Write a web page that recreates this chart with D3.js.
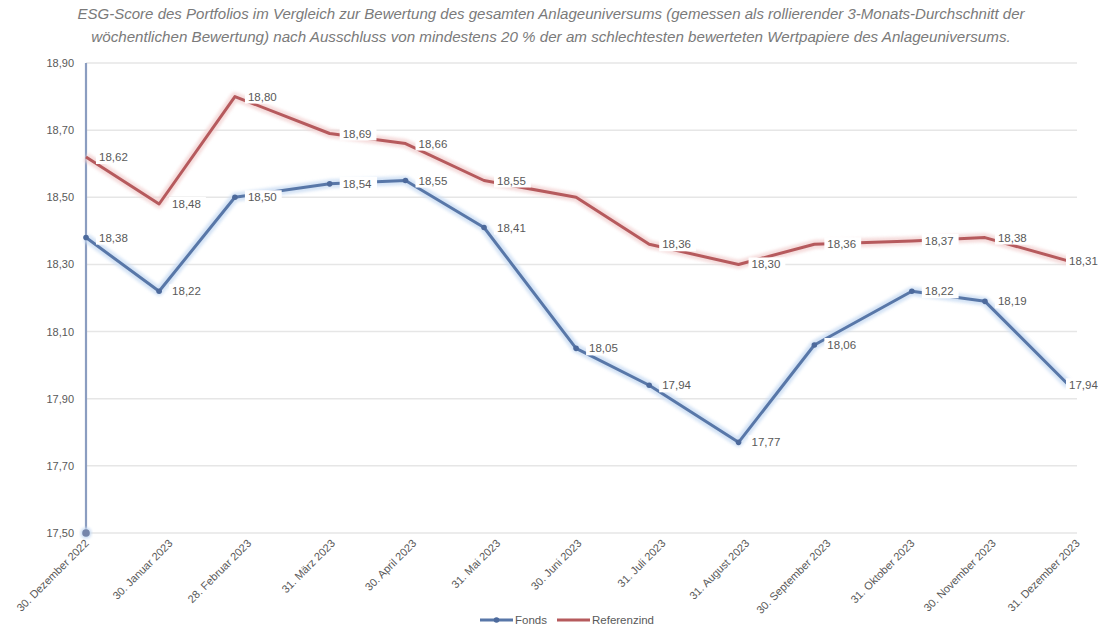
<!DOCTYPE html>
<html>
<head>
<meta charset="utf-8">
<script src="https://cdn.jsdelivr.net/npm/d3@7"></script>
<style>
  html, body { margin: 0; padding: 0; background: #ffffff; }
  svg { display: block; font-family: "Liberation Sans", "DejaVu Sans", sans-serif; }
</style>
</head>
<body>
<svg id="chart" width="1113" height="629"></svg>
<script>
// ---------- data ----------
const titleLines = [
  "ESG-Score des Portfolios im Vergleich zur Bewertung des gesamten Anlageuniversums (gemessen als rollierender 3-Monats-Durchschnitt der",
  "wöchentlichen Bewertung) nach Ausschluss von mindestens 20 % der am schlechtesten bewerteten Wertpapiere des Anlageuniversums."
];
const tickDates = ["2022-12-30","2023-01-30","2023-02-28","2023-03-31","2023-04-30","2023-05-31","2023-06-30","2023-07-31","2023-08-31","2023-09-30","2023-10-31","2023-11-30","2023-12-31"];
const tickLabels = ["30. Dezember 2022","30. Januar 2023","28. Februar 2023","31. März 2023","30. April 2023","31. Mai 2023","30. Juni 2023","31. Juli 2023","31. August 2023","30. September 2023","31. Oktober 2023","30. November 2023","31. Dezember 2023"];
const pointDates = ["2022-12-30","2023-01-26","2023-02-23","2023-03-30","2023-04-27","2023-05-26","2023-06-29","2023-07-26","2023-08-28","2023-09-25","2023-10-31","2023-11-27","2023-12-28"];
const fondsValues = [18.38,18.22,18.50,18.54,18.55,18.41,18.05,17.94,17.77,18.06,18.22,18.19,17.94];
const refValues   = [18.62,18.48,18.80,18.69,18.66,18.55,18.50,18.36,18.30,18.36,18.37,18.38,18.31];
const refLabelShown = [true,true,true,true,true,true,false,true,true,true,true,true,true];
const fondsStartSegment = [18.90, 17.50];
const yTicks = [17.50,17.70,17.90,18.10,18.30,18.50,18.70,18.90];
const seriesNames = ["Fonds","Referenzind"];

// ---------- setup ----------
const W = 1113, H = 629;
const svg = d3.select("#chart");
const parse = d3.timeParse("%Y-%m-%d");
const fmt = v => d3.format(".2f")(v).replace(".", ",");

const x = d3.scaleTime()
  .domain([parse(tickDates[0]), parse(tickDates[tickDates.length - 1])])
  .range([86, 1077]);
const y = d3.scaleLinear().domain([17.5, 18.9]).range([533, 63]);

const blue = "#5877a8", blueGlow = "#c9dcf3";
const red = "#b65a5d", redGlow = "#f3d3d3";
const textGray = "#595959";

const defs = svg.append("defs");
const glow = defs.append("filter").attr("id", "glow")
  .attr("x", "-10%").attr("y", "-10%").attr("width", "120%").attr("height", "120%");
glow.append("feGaussianBlur").attr("stdDeviation", 1.6);

// ---------- title ----------
svg.append("g").selectAll("text").data(titleLines).join("text")
  .attr("x", 551).attr("y", (d, i) => 19 + i * 23)
  .attr("text-anchor", "middle")
  .attr("font-style", "italic")
  .attr("font-size", 13)
  .attr("fill", "#7a7a7a")
  .text(d => d)
  .each(function(d, i) {
    const target = i === 0 ? 948 : 920;
    const len = this.getComputedTextLength();
    if (len > 0) d3.select(this).attr("font-size", 13 * target / len);
  });

// ---------- gridlines ----------
svg.append("g").selectAll("line").data(yTicks).join("line")
  .attr("x1", x.range()[0]).attr("x2", x.range()[1])
  .attr("y1", d => y(d)).attr("y2", d => y(d))
  .attr("stroke", "#e6e6e6").attr("stroke-width", 1.5);

// ---------- y axis ----------
const yAxis = d3.axisLeft(y).tickValues(yTicks).tickFormat(fmt).tickSize(0).tickPadding(0);
const gy = svg.append("g").attr("transform", "translate(74,0)").call(yAxis);
gy.select(".domain").remove();
gy.selectAll("text").attr("font-size", 11).attr("fill", textGray)
  .attr("font-family", "Liberation Sans, sans-serif");

// ---------- x axis ----------
const xAxis = d3.axisBottom(x)
  .tickValues(tickDates.map(parse))
  .tickFormat((d, i) => tickLabels[i])
  .tickSize(0);
const gx = svg.append("g").attr("transform", "translate(0,533)").call(xAxis);
gx.select(".domain").remove();
gx.selectAll("text")
  .attr("font-size", 11).attr("fill", textGray)
  .attr("text-anchor", "end")
  .attr("font-family", "Liberation Sans, sans-serif")
  .attr("dy", null).attr("y", 0)
  .attr("transform", "translate(3,11) rotate(-45)");

// ---------- lines ----------
const fondsData = pointDates.map((d, i) => ({ date: parse(d), value: fondsValues[i] }));
const refData = pointDates.map((d, i) => ({ date: parse(d), value: refValues[i], show: refLabelShown[i] }));
const line = d3.line().x(d => x(d.date)).y(d => y(d.value));

// vertical Fonds segment at first date
const segData = fondsStartSegment.map(v => ({ date: parse(pointDates[0]), value: v }));
svg.append("path").datum(segData).attr("d", line)
  .attr("stroke", blueGlow).attr("stroke-width", 6).attr("fill", "none").attr("filter", "url(#glow)");
svg.append("path").datum(segData).attr("d", line)
  .attr("stroke", "#8b9dc0").attr("stroke-width", 2.2).attr("fill", "none");
svg.append("circle")
  .attr("cx", x(segData[1].date)).attr("cy", y(segData[1].value)).attr("r", 5.5)
  .attr("fill", blueGlow).attr("filter", "url(#glow)");
svg.append("circle")
  .attr("cx", x(segData[1].date)).attr("cy", y(segData[1].value)).attr("r", 3.8)
  .attr("fill", "#7585aa");

// glows
svg.append("path").datum(refData).attr("d", line)
  .attr("stroke", redGlow).attr("stroke-width", 9).attr("fill", "none")
  .attr("stroke-linejoin", "round").attr("filter", "url(#glow)").attr("opacity", 0.8);
svg.append("path").datum(fondsData).attr("d", line)
  .attr("stroke", blueGlow).attr("stroke-width", 9).attr("fill", "none")
  .attr("stroke-linejoin", "round").attr("filter", "url(#glow)").attr("opacity", 0.8);

svg.append("path").datum(refData).attr("d", line)
  .attr("stroke", red).attr("stroke-width", 3).attr("fill", "none").attr("stroke-linejoin", "round");
svg.append("path").datum(fondsData).attr("d", line)
  .attr("stroke", blue).attr("stroke-width", 3).attr("fill", "none").attr("stroke-linejoin", "round");

svg.append("g").selectAll("circle").data(fondsData).join("circle")
  .attr("cx", d => x(d.date)).attr("cy", d => y(d.value)).attr("r", 2.8)
  .attr("fill", "#4d6a9c");

// ---------- data labels ----------
function addLabels(data) {
  const g = svg.append("g");
  data.filter(d => d.show !== false).forEach(d => {
    const vx = x(d.date), vy = y(d.value);
    const tx = Math.min(vx + 13, W - 44);
    const lg = g.append("g");
    const rect = lg.append("rect").attr("fill", "#ffffff");
    const t = lg.append("text")
      .attr("x", tx).attr("y", vy + 4)
      .attr("font-size", 11.5).attr("fill", textGray)
      .text(fmt(d.value));
    const bb = t.node().getBBox();
    rect.attr("x", bb.x - 3).attr("y", bb.y - 1)
      .attr("width", bb.width + 8).attr("height", bb.height + 2);
  });
}
addLabels(refData);
addLabels(fondsData);

// ---------- legend ----------
const lg = svg.append("g").attr("transform", "translate(480,620)");
lg.append("line").attr("x1", 0).attr("x2", 33).attr("y1", 0).attr("y2", 0)
  .attr("stroke", blue).attr("stroke-width", 3);
lg.append("circle").attr("cx", 16.5).attr("cy", 0).attr("r", 2.8).attr("fill", "#4d6a9c");
lg.append("text").attr("x", 35).attr("y", 4).attr("font-size", 11.5).attr("fill", textGray).text(seriesNames[0]);
lg.append("line").attr("x1", 77).attr("x2", 110).attr("y1", 0).attr("y2", 0)
  .attr("stroke", red).attr("stroke-width", 3);
lg.append("text").attr("x", 112).attr("y", 4).attr("font-size", 11.5).attr("fill", textGray).text(seriesNames[1]);
</script>
</body>
</html>
